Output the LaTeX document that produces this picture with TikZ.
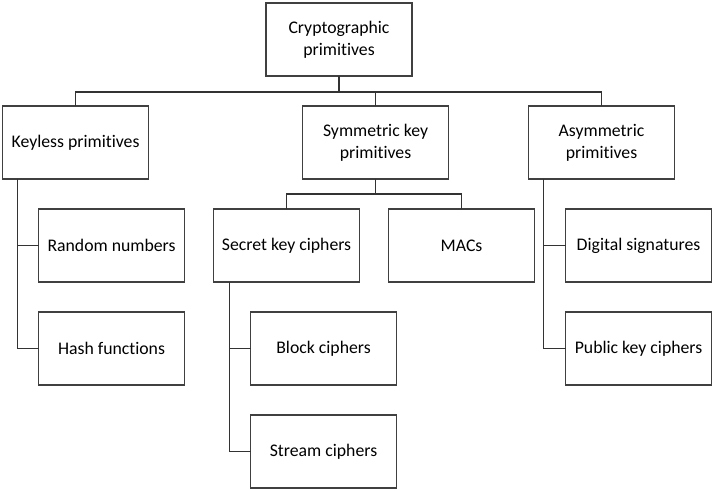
\documentclass[tikz,border=0pt]{standalone}
\usepackage{fontspec}
\setmainfont{Carlito}[RawFeature={-liga}]
\usetikzlibrary{positioning}

\begin{document}
\begin{tikzpicture}[
x=0.75pt, y=-0.75pt,
node distance=22.5pt,
  box/.style = {rectangle, draw=black!75, line width=0.9pt,% boxes of the tree
                minimum width=109.5pt, minimum height=54.75pt,
                align=center, font=\fontsize{13.3}{16.5}\selectfont,
                inner sep=2pt, outer sep=0pt},
 link/.style = {draw=black!80, line width=0.9pt}, % connectors
                    ]
\useasboundingbox (0,0) rectangle (714,490);
% root and first level
\node[box] (crypto) at (339,39.5) {Cryptographic\\ primitives};
\node[box, below=of crypto, xshift=-197.6pt] (keyless)   {Keyless primitives};
\node[box, below=of crypto, xshift=27.4pt]   (symmetric) {Symmetric key\\ primitives};
\node[box, below=of crypto, xshift=196.9pt]  (asymmetric) {Asymmetric\\ primitives};
% second level
\node[box, below=of keyless.south west, anchor=north west, xshift=27pt]  (random) {Random numbers};
\node[box, below=of random] (hash) {Hash functions};
\node[box, below=of symmetric.south west, anchor=north west, xshift=-66.75pt] (secret) {Secret key ciphers};
\node[box, right=21.75pt of secret] (macs) {MACs};
\node[box, below=of secret.south west, anchor=north west, xshift=27.75pt] (block) {Block ciphers};
\node[box, below=of block] (stream) {Stream ciphers};
\node[box, below=of asymmetric.south west, anchor=north west, xshift=27.75pt] (digital) {Digital signatures};
\node[box, below=of digital] (public) {Public key ciphers};
% connectors
\draw[link] (crypto.south) -- ++(0,-12pt) coordinate (bus);
\draw[link] (bus) -| (keyless.north);
\draw[link] (bus) -| (symmetric.north);
\draw[link] (bus) -| (asymmetric.north);
\draw[link] (symmetric.south) -- ++(0,-11.25pt) coordinate (sbus);
\draw[link] (sbus) -| (secret.north);
\draw[link] (sbus) -| (macs.north);
\draw[link] ([xshift=11.25pt]keyless.south west) |- (random.west);
\draw[link] ([xshift=11.25pt]keyless.south west) |- (hash.west);
\draw[link] ([xshift=12pt]secret.south west) |- (block.west);
\draw[link] ([xshift=12pt]secret.south west) |- (stream.west);
\draw[link] ([xshift=11.25pt]asymmetric.south west) |- (digital.west);
\draw[link] ([xshift=11.25pt]asymmetric.south west) |- (public.west);
\end{tikzpicture}
\end{document}
